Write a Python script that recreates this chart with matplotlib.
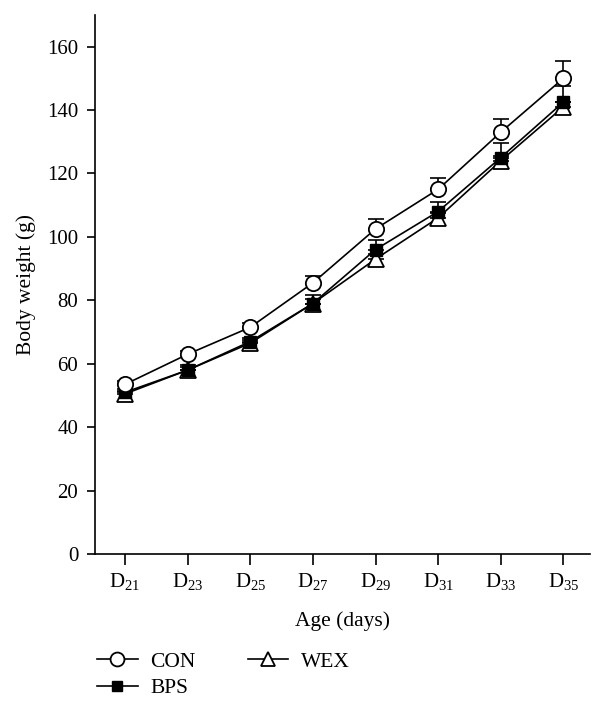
import numpy as np
import matplotlib.pyplot as plt
from matplotlib.lines import Line2D

plt.rcParams['font.family'] = ['Liberation Serif', 'DejaVu Serif']
plt.rcParams['mathtext.fontset'] = 'custom'
plt.rcParams['mathtext.rm'] = 'Liberation Serif'
plt.rcParams['mathtext.default'] = 'regular'

days = [21, 23, 25, 27, 29, 31, 33, 35]
con = [53.5, 63, 71.5, 85.5, 102.5, 115, 133, 150]
con_err = [1.0, 1.0, 1.2, 2.2, 3.2, 3.5, 4.2, 5.5]
bps = [51, 58, 67, 79, 96, 108, 125, 142.5]
bps_err = [1.0, 1.5, 1.2, 2.8, 3.0, 3.0, 4.5, 5.0]
wex = [50.5, 58, 66.5, 79, 93, 106, 124, 141]
wex_err = [0.8, 1.0, 1.0, 1.5, 1.5, 1.5, 1.5, 1.5]

x = np.arange(len(days))
labels = [r'D$_{%d}$' % d for d in days]

fig = plt.figure(figsize=(6.08, 7.05), dpi=100)
ax = fig.add_axes([0.156, 0.214, 0.814, 0.765])

ekw = dict(color='black', lw=1.2, capsize=6, capthick=1.2, zorder=2)
ax.errorbar(x, wex, yerr=[np.zeros(8), wex_err], fmt='none', **ekw)
ax.plot(x, wex, '-^', color='black', lw=1.2, mfc='white', mec='black', mew=1.3, ms=11, zorder=3)
ax.errorbar(x, bps, yerr=[np.zeros(8), bps_err], fmt='none', **ekw)
ax.plot(x, bps, '-s', color='black', lw=1.2, mfc='black', mec='black', ms=8, zorder=4)
ax.errorbar(x, con, yerr=[np.zeros(8), con_err], fmt='none', **ekw)
ax.plot(x, con, '-o', color='black', lw=1.2, mfc='white', mec='black', mew=1.3, ms=11, zorder=5)

ax.set_xlim(-0.48, 7.42)
ax.set_ylim(0, 170)
ax.set_yticks(range(0, 161, 20))
ax.set_xticks(x)
ax.set_xticklabels(labels, fontsize=15.5)
ax.tick_params(axis='both', labelsize=15, width=1.2, direction='out')
ax.tick_params(axis='x', length=8, pad=4)
ax.tick_params(axis='y', length=6, pad=6)
for s in ['top', 'right']:
    ax.spines[s].set_visible(False)
for s in ['left', 'bottom']:
    ax.spines[s].set_linewidth(1.2)
ax.set_ylabel('Body weight (g)', fontsize=15.5, labelpad=8)
ax.set_xlabel('Age (days)', fontsize=15.5, labelpad=14)

handles = [
    Line2D([], [], color='black', lw=1.2, marker='o', mfc='white', mec='black', mew=1.3, ms=10),
    Line2D([], [], color='black', lw=1.2, marker='s', mfc='black', mec='black', ms=7.5),
    Line2D([], [], color='black', lw=1.2, marker='^', mfc='white', mec='black', mew=1.3, ms=10),
]
fig.legend(handles, ['CON', 'BPS', 'WEX'], ncol=2, loc='upper left',
           bbox_to_anchor=(0.145, 0.088), frameon=False, fontsize=15.5,
           handlelength=1.9, handletextpad=0.6, columnspacing=2.4,
           labelspacing=0.3, borderaxespad=0)

fig.savefig('out.png', dpi=100)
